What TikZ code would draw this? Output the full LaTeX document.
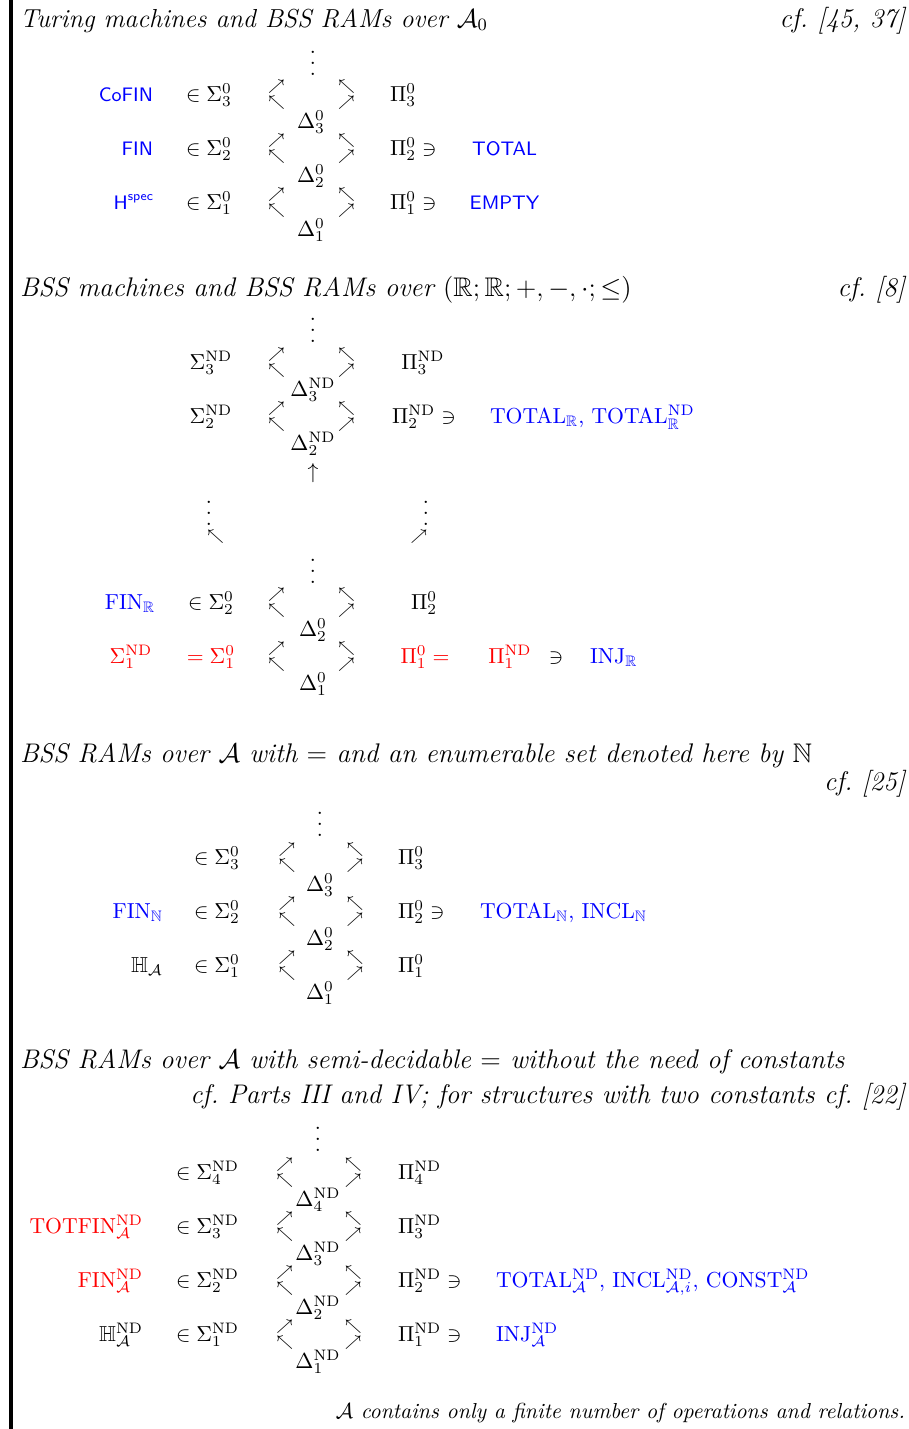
\documentclass[tikz,border=0pt]{standalone}
\usepackage{amsmath,amssymb}
\newcommand\myvdots{\vbox{\baselineskip4.9pt\lineskiplimit0pt\hbox{.}\hbox{.}\hbox{.}}}
\newcommand\hs[1]{\scalebox{1.035}{#1}}
\begin{document}
\begin{tikzpicture}[x=0.461pt,y=-0.461pt,
  every node/.style={inner sep=0pt,outer sep=0pt},
  txt/.style={anchor=base},
  lft/.style={anchor=base west},
  rgt/.style={anchor=base east},
  head/.style={anchor=base west,font=\large\itshape},
  cite/.style={anchor=base east,font=\large\itshape},
  sflab/.style={font=\small\sffamily,text=blue},
  bl/.style={text=blue},
  rd/.style={text=red},
  arr/.style={anchor=center}]
\useasboundingbox (0,0) rectangle (909,1429);
\draw[line width=1.4pt] (11,0) -- (11,1429);

% ---------------- Section 1
\node[head] (h1) at (20,27) {Turing machines and BSS RAMs over $\mathcal{A}_0$};
\node[cite] (c1) at (905,27) {\hs{cf.\ [45, 37]}};
\node[txt] (s1v) at (313,75) {\myvdots};
\foreach \n/\b in {3/101,2/155,1/209}{
  \node[arr] (s1lt\n) at (276.5,\b-14) {$\scriptstyle\nearrow$};
  \node[arr] (s1lb\n) at (276.5,\b+2) {$\scriptstyle\nwarrow$};
  \node[arr] (s1rt\n) at (346.5,\b-14) {$\scriptstyle\nwarrow$};
  \node[arr] (s1rb\n) at (346.5,\b+2) {$\scriptstyle\nearrow$};
  \node[txt] (s1d\n) at (311,\b+27) {$\Delta^0_\n$};
  \node[lft] (s1s\n) at (186,\b) {$\in\Sigma^0_\n$};
}
\node[lft] (s1p3) at (390,101) {$\Pi^0_3$};
\node[lft] (s1p2) at (390,155) {$\Pi^0_2\ni$};
\node[lft] (s1p1) at (390,209) {$\Pi^0_1\ni$};
\node[rgt,sflab] (s1l3) at (153,101) {CoFIN};
\node[rgt,sflab] (s1l2) at (153,155) {FIN};
\node[rgt,sflab] (s1l1) at (154,209) {H\textsuperscript{spec}};
\node[txt,sflab] (s1r2) at (504.5,155) {TOTAL};
\node[txt,sflab] (s1r1) at (504.5,209) {EMPTY};

% ---------------- Section 2
\node[head] (h2) at (20,296) {\hs{BSS machines and BSS RAMs over $(\mathbb{R};\mathbb{R};+,-,\cdot;\leq)$}};
\node[cite] (c2) at (905,296) {\hs{cf.\ [8]}};
\node[txt] (s2v) at (313,342) {\myvdots};
\foreach \n/\b in {3/369,2/423}{
  \node[arr] (s2lt\n) at (276.5,\b-14) {$\scriptstyle\nearrow$};
  \node[arr] (s2lb\n) at (276.5,\b+2) {$\scriptstyle\nwarrow$};
  \node[arr] (s2rt\n) at (346.5,\b-14) {$\scriptstyle\nwarrow$};
  \node[arr] (s2rb\n) at (346.5,\b+2) {$\scriptstyle\nearrow$};
  \node[txt] (s2d\n) at (313,\b+27) {$\Delta^{\mathrm{ND}}_\n$};
  \node[txt] (s2s\n) at (211,\b) {$\Sigma^{\mathrm{ND}}_\n$};
}
\node[txt] (s2p3) at (423,369) {$\Pi^{\mathrm{ND}}_3$};
\node[txt] (s2p2) at (424,423) {$\Pi^{\mathrm{ND}}_2\ni$};
\node[lft,bl] (s2r2) at (490,423) {TOTAL$_{\mathbb{R}}$, TOTAL$^{\mathrm{ND}}_{\mathbb{R}}$};
\node[arr] (s2up) at (313,473) {$\uparrow$};
\node[txt] (s2vl) at (209,525) {\myvdots};
\node[txt] (s2vr) at (426,525) {\myvdots};
\node[arr] (s2al) at (215.5,536.5) {$\scriptstyle\nwarrow$};
\node[arr] (s2ar) at (419,536.5) {$\scriptstyle\nearrow$};
\node[txt] (s2v2) at (313,583) {\myvdots};
\foreach \n/\b in {2/609,1/663}{
  \node[arr] (s2Lt\n) at (276.5,\b-14) {$\scriptstyle\nearrow$};
  \node[arr] (s2Lb\n) at (276.5,\b+2) {$\scriptstyle\nwarrow$};
  \node[arr] (s2Rt\n) at (346.5,\b-14) {$\scriptstyle\nwarrow$};
  \node[arr] (s2Rb\n) at (346.5,\b+2) {$\scriptstyle\nearrow$};
  \node[txt] (s2D\n) at (313,\b+27) {$\Delta^0_\n$};
}
\node[txt,bl] (s2l2) at (130,609) {FIN$_{\mathbb{R}}$};
\node[txt] (s2S2) at (211,609) {$\in\Sigma^0_2$};
\node[txt] (s2P2) at (424,609) {$\Pi^0_2$};
\node[txt,rd] (s2l1) at (131,663) {$\Sigma^{\mathrm{ND}}_1$};
\node[txt,rd] (s2S1) at (211,663) {$=\Sigma^0_1$};
\node[txt,rd] (s2P1) at (425,663) {$\Pi^0_1=$};
\node[txt,rd] (s2Q1) at (510,663) {$\Pi^{\mathrm{ND}}_1$};
\node[txt] (s2ni) at (556,663) {$\ni$};
\node[lft,bl] (s2r1) at (590,663) {INJ$_{\mathbb{R}}$};

% ---------------- Section 3
\node[head] (h3) at (20,762) {\hs{BSS RAMs over $\mathcal{A}$ with $=$ and an enumerable set denoted here by $\mathbb{N}$}};
\node[cite] (c3) at (905,790) {\hs{cf.\ [25]}};
\node[txt] (s3v) at (320,836) {\myvdots};
\foreach \n/\b in {3/864,2/918,1/972}{
  \node[arr] (s3lt\n) at (287,\b-14) {$\scriptstyle\nearrow$};
  \node[arr] (s3lb\n) at (287,\b+2) {$\scriptstyle\nwarrow$};
  \node[arr] (s3rt\n) at (355,\b-14) {$\scriptstyle\nwarrow$};
  \node[arr] (s3rb\n) at (355,\b+2) {$\scriptstyle\nearrow$};
  \node[txt] (s3d\n) at (320,\b+27) {$\Delta^0_\n$};
  \node[lft] (s3s\n) at (194,\b) {$\in\Sigma^0_\n$};
}
\node[lft] (s3p3) at (398,864) {$\Pi^0_3$};
\node[lft] (s3p2) at (398,918) {$\Pi^0_2\ni$};
\node[lft] (s3p1) at (398,972) {$\Pi^0_1$};
\node[rgt,bl] (s3l2) at (163,918) {FIN$_{\mathbb{N}}$};
\node[rgt] (s3l1) at (163,972) {$\mathbb{H}_{\mathcal{A}}$};
\node[lft,bl] (s3r2) at (480,918) {TOTAL$_{\mathbb{N}}$, INCL$_{\mathbb{N}}$};

% ---------------- Section 4
\node[head] (h4) at (20,1068) {\hs{BSS RAMs over $\mathcal{A}$ with semi-decidable $=$ without the need of constants}};
\node[cite] (c4) at (905,1103) {\hs{cf.\ Parts III and IV; for structures with two constants cf.\ [22]}};
\node[txt] (s4v) at (318,1151) {\myvdots};
\foreach \n/\b in {4/1179,3/1233,2/1287,1/1341}{
  \node[arr] (s4lt\n) at (284.7,\b-14) {$\scriptstyle\nearrow$};
  \node[arr] (s4lb\n) at (284.7,\b+2) {$\scriptstyle\nwarrow$};
  \node[arr] (s4rt\n) at (353.2,\b-14) {$\scriptstyle\nwarrow$};
  \node[arr] (s4rb\n) at (353.2,\b+2) {$\scriptstyle\nearrow$};
  \node[txt] (s4d\n) at (318,\b+27) {$\Delta^{\mathrm{ND}}_\n$};
  \node[lft] (s4s\n) at (176,\b) {$\in\Sigma^{\mathrm{ND}}_\n$};
}
\node[lft] (s4p4) at (398,1179) {$\Pi^{\mathrm{ND}}_4$};
\node[lft] (s4p3) at (398,1233) {$\Pi^{\mathrm{ND}}_3$};
\node[lft] (s4p2) at (398,1287) {$\Pi^{\mathrm{ND}}_2\ni$};
\node[lft] (s4p1) at (398,1341) {$\Pi^{\mathrm{ND}}_1\ni$};
\node[rgt,rd] (s4l3) at (143,1233) {TOTFIN$^{\mathrm{ND}}_{\mathcal{A}}$};
\node[rgt,rd] (s4l2) at (143,1287) {FIN$^{\mathrm{ND}}_{\mathcal{A}}$};
\node[rgt] (s4l1) at (143,1341) {$\mathbb{H}^{\mathrm{ND}}_{\mathcal{A}}$};
\node[lft,bl] (s4r2) at (496,1287) {TOTAL$^{\mathrm{ND}}_{\mathcal{A}}$, INCL$^{\mathrm{ND}}_{\mathcal{A},i}$, CONST$^{\mathrm{ND}}_{\mathcal{A}}$};
\node[lft,bl] (s4r1) at (496,1341) {INJ$^{\mathrm{ND}}_{\mathcal{A}}$};
\node[anchor=base east,font=\itshape] (foot) at (905,1418) {$\mathcal{A}$ contains only a finite number of operations and relations.};
\end{tikzpicture}
\end{document}
